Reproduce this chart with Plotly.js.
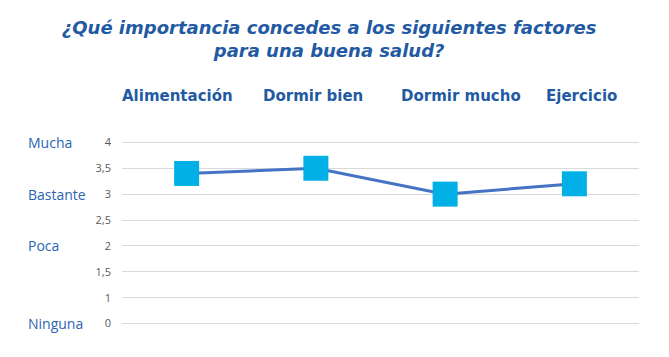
<!DOCTYPE html>
<html>
<head>
<meta charset="utf-8">
<script src="https://cdn.plot.ly/plotly-3.0.1.min.js"></script>
<style>html,body{margin:0;padding:0;background:#fff;}#chart{width:669px;height:357px;}</style>
</head>
<body>
<div id="chart"></div>
<script>
const categories = ["Alimentación", "Dormir bien", "Dormir mucho", "Ejercicio"];
const values = [3.4, 3.5, 3.0, 3.2];
const tickVals = [0.5, 1, 1.5, 2, 2.5, 3, 3.5, 4];
const tickText = ["0", "1", "1,5", "2", "2,5", "3", "3,5", "4"];
const levelLabels = ["Mucha", "Bastante", "Poca", "Ninguna"];
const levelValues = [4, 3, 2, 0.5];
const titleText = "¿Qué importancia concedes a los siguientes factores<br>para una buena salud?";

const blue = "#1F5AA3";
const catShift = [-9, -3, 16, 7];

const annotations = [];
categories.forEach((c, i) => {
  annotations.push({
    x: i, y: 1, xref: "x", yref: "paper", yanchor: "bottom", yshift: 25,
    xshift: catShift[i], text: "<b>" + c + "</b>", showarrow: false,
    font: {family: "DejaVu Sans", size: 15, color: blue}
  });
});
levelLabels.forEach((l, i) => {
  annotations.push({
    x: (26 - 122) / 517, xref: "paper", y: levelValues[i], yref: "y", xanchor: "left",
    text: l, showarrow: false,
    font: {family: "Open Sans, Liberation Sans", size: 14, color: "#2A66B0"}
  });
});

Plotly.newPlot("chart", [{
  x: categories.map((c, i) => i),
  y: values,
  type: "scatter",
  mode: "lines+markers",
  line: {color: "#4472C4", width: 3},
  marker: {symbol: "square", size: 25, color: "#00B0E6"},
  hoverinfo: "skip"
}], {
  width: 669, height: 357,
  margin: {l: 122, r: 30, t: 132, b: 23},
  paper_bgcolor: "#fff", plot_bgcolor: "#fff",
  showlegend: false,
  title: {
    text: "<b><i>" + titleText + "</i></b>",
    font: {family: "DejaVu Sans", size: 18, color: blue},
    x: 0.492, xanchor: "center", yref: "container", y: 0.905, yanchor: "top"
  },
  xaxis: {range: [-0.5, 3.5], showgrid: false, zeroline: false, showticklabels: false, showline: false, fixedrange: true},
  yaxis: {
    range: [0.3, 4.2], tickvals: tickVals, ticktext: tickText,
    showgrid: true, gridcolor: "#D9D9D9", gridwidth: 1, zeroline: false, showline: false,
    ticks: "", ticklabelstandoff: 10,
    tickfont: {family: "Open Sans, Liberation Sans", size: 11, color: "#595959"}
  },
  annotations: annotations
}, {displayModeBar: false, staticPlot: true});
</script>
</body>
</html>
